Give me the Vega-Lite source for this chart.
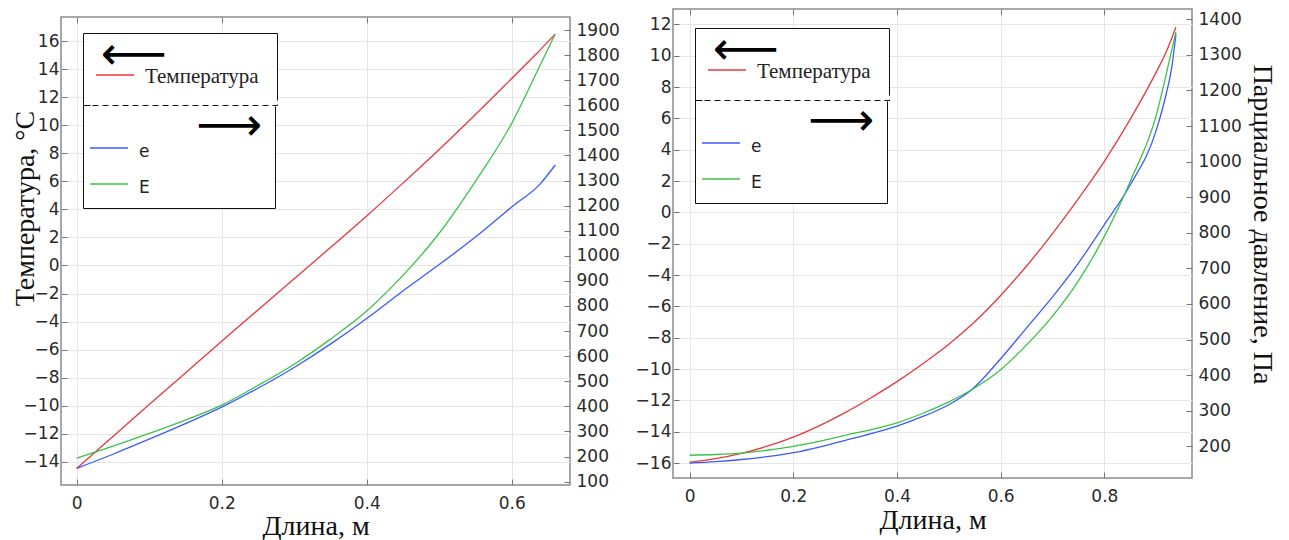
{
  "$schema": "https://vega.github.io/schema/vega-lite/v6.json",
  "background": "white",
  "padding": {"left": 10, "top": 7, "right": 4, "bottom": 0},
  "spacing": 13,
  "datasets": {
    "leftT": [
      {"x": 0, "v": -14.48, "s": "Температура"}, {"x": 0.05, "v": -12.2, "s": "Температура"},
      {"x": 0.1, "v": -9.93, "s": "Температура"}, {"x": 0.15, "v": -7.67, "s": "Температура"},
      {"x": 0.2, "v": -5.4, "s": "Температура"}, {"x": 0.25, "v": -3.17, "s": "Температура"},
      {"x": 0.3, "v": -0.95, "s": "Температура"}, {"x": 0.35, "v": 1.28, "s": "Температура"},
      {"x": 0.4, "v": 3.54, "s": "Температура"}, {"x": 0.45, "v": 5.88, "s": "Температура"},
      {"x": 0.5, "v": 8.28, "s": "Температура"}, {"x": 0.55, "v": 10.78, "s": "Температура"},
      {"x": 0.6, "v": 13.35, "s": "Температура"}, {"x": 0.63, "v": 14.9, "s": "Температура"},
      {"x": 0.66, "v": 16.52, "s": "Температура"}
    ],
    "leftP": [
      {"x": 0, "v": 153, "s": "e"}, {"x": 0.05, "v": 209, "s": "e"}, {"x": 0.1, "v": 269, "s": "e"},
      {"x": 0.15, "v": 331, "s": "e"}, {"x": 0.2, "v": 397, "s": "e"}, {"x": 0.25, "v": 472, "s": "e"},
      {"x": 0.3, "v": 555, "s": "e"}, {"x": 0.35, "v": 648, "s": "e"}, {"x": 0.4, "v": 750, "s": "e"},
      {"x": 0.45, "v": 860, "s": "e"}, {"x": 0.5, "v": 965, "s": "e"}, {"x": 0.55, "v": 1075, "s": "e"},
      {"x": 0.6, "v": 1195, "s": "e"}, {"x": 0.64, "v": 1289, "s": "e"}, {"x": 0.66, "v": 1362, "s": "e"},
      {"x": 0, "v": 193, "s": "E"}, {"x": 0.05, "v": 241, "s": "E"}, {"x": 0.1, "v": 292, "s": "E"},
      {"x": 0.15, "v": 345, "s": "E"}, {"x": 0.2, "v": 405, "s": "E"}, {"x": 0.25, "v": 483, "s": "E"},
      {"x": 0.3, "v": 568, "s": "E"}, {"x": 0.35, "v": 668, "s": "E"}, {"x": 0.4, "v": 780, "s": "E"},
      {"x": 0.45, "v": 922, "s": "E"}, {"x": 0.5, "v": 1090, "s": "E"}, {"x": 0.55, "v": 1297, "s": "E"},
      {"x": 0.6, "v": 1528, "s": "E"}, {"x": 0.64, "v": 1765, "s": "E"}, {"x": 0.66, "v": 1884, "s": "E"}
    ],
    "rightT": [
      {"x": 0, "v": -15.95, "s": "Температура"}, {"x": 0.05, "v": -15.72, "s": "Температура"},
      {"x": 0.1, "v": -15.38, "s": "Температура"}, {"x": 0.15, "v": -14.92, "s": "Температура"},
      {"x": 0.2, "v": -14.34, "s": "Температура"}, {"x": 0.25, "v": -13.62, "s": "Температура"},
      {"x": 0.3, "v": -12.78, "s": "Температура"}, {"x": 0.35, "v": -11.83, "s": "Температура"},
      {"x": 0.4, "v": -10.8, "s": "Температура"}, {"x": 0.45, "v": -9.66, "s": "Температура"},
      {"x": 0.5, "v": -8.42, "s": "Температура"}, {"x": 0.55, "v": -6.98, "s": "Температура"},
      {"x": 0.6, "v": -5.3, "s": "Температура"}, {"x": 0.65, "v": -3.42, "s": "Температура"},
      {"x": 0.7, "v": -1.35, "s": "Температура"}, {"x": 0.75, "v": 0.88, "s": "Температура"},
      {"x": 0.8, "v": 3.26, "s": "Температура"}, {"x": 0.85, "v": 5.95, "s": "Температура"},
      {"x": 0.9, "v": 8.95, "s": "Температура"}, {"x": 0.92, "v": 10.3, "s": "Температура"},
      {"x": 0.938, "v": 11.81, "s": "Температура"}
    ],
    "rightP": [
      {"x": 0, "v": 153, "s": "e"}, {"x": 0.05, "v": 157, "s": "e"}, {"x": 0.1, "v": 163, "s": "e"},
      {"x": 0.15, "v": 171, "s": "e"}, {"x": 0.2, "v": 182, "s": "e"}, {"x": 0.25, "v": 198, "s": "e"},
      {"x": 0.3, "v": 217, "s": "e"}, {"x": 0.35, "v": 236, "s": "e"}, {"x": 0.4, "v": 257, "s": "e"},
      {"x": 0.45, "v": 284, "s": "e"}, {"x": 0.5, "v": 317, "s": "e"}, {"x": 0.544, "v": 359, "s": "e"},
      {"x": 0.6, "v": 446, "s": "e"}, {"x": 0.65, "v": 533, "s": "e"}, {"x": 0.7, "v": 620, "s": "e"},
      {"x": 0.75, "v": 715, "s": "e"}, {"x": 0.8, "v": 823, "s": "e"}, {"x": 0.85, "v": 935, "s": "e"},
      {"x": 0.9, "v": 1088, "s": "e"}, {"x": 0.92, "v": 1195, "s": "e"}, {"x": 0.93, "v": 1265, "s": "e"},
      {"x": 0.938, "v": 1358, "s": "e"},
      {"x": 0, "v": 175, "s": "E"}, {"x": 0.05, "v": 177, "s": "E"}, {"x": 0.1, "v": 181, "s": "E"},
      {"x": 0.15, "v": 189, "s": "E"}, {"x": 0.2, "v": 200, "s": "E"}, {"x": 0.25, "v": 214, "s": "E"},
      {"x": 0.3, "v": 231, "s": "E"}, {"x": 0.35, "v": 247, "s": "E"}, {"x": 0.4, "v": 266, "s": "E"},
      {"x": 0.45, "v": 293, "s": "E"}, {"x": 0.5, "v": 325, "s": "E"}, {"x": 0.544, "v": 359, "s": "E"},
      {"x": 0.6, "v": 415, "s": "E"}, {"x": 0.65, "v": 485, "s": "E"}, {"x": 0.7, "v": 566, "s": "E"},
      {"x": 0.75, "v": 665, "s": "E"}, {"x": 0.8, "v": 790, "s": "E"}, {"x": 0.85, "v": 945, "s": "E"},
      {"x": 0.9, "v": 1130, "s": "E"}, {"x": 0.92, "v": 1250, "s": "E"}, {"x": 0.938, "v": 1365, "s": "E"}
    ]
  },
  "hconcat": [
    {
      "spacing": 5,
      "vconcat": [
        {
          "width": 509,
          "height": 1,
          "view": {"stroke": null},
          "data": {"values": []},
          "mark": "text"
        },
        {
          "width": 509,
          "height": 468,
          "layer": [
            {
              "data": {"name": "leftT"},
              "mark": {"type": "line", "strokeWidth": 1.3, "interpolate": "monotone"},
              "encoding": {
                "x": {"field": "x", "type": "quantitative",
                      "scale": {"domain": [-0.0216, 0.6804], "nice": false, "zero": false},
                      "axis": {"values": [0, 0.2, 0.4, 0.6], "title": "Длина, м", "format": "~g", "titlePadding": 1}},
                "y": {"field": "v", "type": "quantitative",
                      "scale": {"domain": [-15.67, 17.74], "nice": false, "zero": false},
                      "axis": {"orient": "left", "values": [-14, -12, -10, -8, -6, -4, -2, 0, 2, 4, 6, 8, 10, 12, 14, 16],
                               "title": "Температура, °C", "grid": true, "titleX": -22, "titleY": 191}},
                "color": {"field": "s", "type": "nominal",
                          "scale": {"domain": ["Температура"], "range": ["#e8383d"]},
                          "legend": {"orient": "none", "legendX": 22, "legendY": 16, "zindex": 3,
                                     "title": "⟵", "titleAnchor": "start",
                                     "padding": 18, "titlePadding": -42, "symbolOffset": -6,
                                     "labelFont": "Liberation Serif", "labelFontSize": 21,
                                     "encode": {
                                       "title": {"update": {"dy": {"value": -18}}},
                                       "labels": {"update": {"dy": {"value": 2}}},
                                       "legend": {"update": {"strokeDash": {"value": [261, 4, 6, 4, 6, 4, 6, 4, 6, 4, 6, 4, 6, 4, 6, 4, 6, 4, 6, 4, 6, 4, 6, 4, 6, 4, 6, 4, 6, 4, 6, 4, 6, 4, 6, 4, 6, 4, 6, 2, 100]}}}
                                     }}}
              }
            },
            {
              "data": {"name": "leftP"},
              "mark": {"type": "line", "strokeWidth": 1.3, "interpolate": "monotone"},
              "encoding": {
                "x": {"field": "x", "type": "quantitative",
                      "axis": {"orient": "top", "values": [0, 0.2, 0.4, 0.6], "labels": false, "title": null, "grid": false}},
                "y": {"field": "v", "type": "quantitative",
                      "scale": {"domain": [86.4, 1952], "nice": false, "zero": false},
                      "axis": {"orient": "right", "values": [100, 200, 300, 400, 500, 600, 700, 800, 900, 1000, 1100, 1200, 1300, 1400, 1500, 1600, 1700, 1800, 1900],
                               "title": null, "grid": false, "format": "d"}},
                "color": {"field": "s", "type": "nominal",
                          "scale": {"domain": ["e", "E"], "range": ["#3b5bff", "#3cc24a"]},
                          "legend": {"orient": "none", "legendX": 22, "legendY": 87, "zindex": 2,
                                     "title": "⠀⠀⠀⟶", "titleAnchor": "start", "titleLimit": 400,
                                     "padding": 12, "titlePadding": -34, "rowPadding": 4, "symbolOffset": -6,
                                     "labelFont": "DejaVu Sans", "labelFontSize": 17,
                                     "encode": {
                                       "title": {"update": {"dy": {"value": -12}}},
                                       "labels": {"update": {"dy": {"value": 4}}},
                                       "legend": {"update": {"strokeDash": {"value": [0, 194, 1000, 0]}}}
                                     }}}
              }
            }
          ],
          "resolve": {"scale": {"y": "independent", "color": "independent"}, "axis": {"x": "independent"}}
        }
      ]
    },
    {
      "width": 519,
      "height": 469,
      "layer": [
        {
          "data": {"name": "rightT"},
          "mark": {"type": "line", "strokeWidth": 1.3, "interpolate": "monotone"},
          "encoding": {
            "x": {"field": "x", "type": "quantitative",
                  "scale": {"domain": [-0.0319, 0.969], "nice": false, "zero": false},
                  "axis": {"values": [0, 0.2, 0.4, 0.6, 0.8], "title": "Длина, м", "format": "~g"}},
            "y": {"field": "v", "type": "quantitative",
                  "scale": {"domain": [-16.95, 12.98], "nice": false, "zero": false},
                  "axis": {"orient": "left", "values": [-16, -14, -12, -10, -8, -6, -4, -2, 0, 2, 4, 6, 8, 10, 12],
                           "title": null, "grid": true}},
            "color": {"field": "s", "type": "nominal",
                      "scale": {"domain": ["Температура"], "range": ["#e8383d"]},
                      "legend": {"orient": "none", "legendX": 22, "legendY": 19, "zindex": 3,
                                 "title": "⟵", "titleAnchor": "start",
                                 "padding": 18, "titlePadding": -42, "symbolOffset": -6,
                                 "labelFont": "Liberation Serif", "labelFontSize": 21,
                                 "encode": {
                                   "title": {"update": {"dy": {"value": -18}}},
                                   "labels": {"update": {"dy": {"value": 2}}},
                                   "legend": {"update": {"strokeDash": {"value": [261, 4, 6, 4, 6, 4, 6, 4, 6, 4, 6, 4, 6, 4, 6, 4, 6, 4, 6, 4, 6, 4, 6, 4, 6, 4, 6, 4, 6, 4, 6, 4, 6, 4, 6, 4, 6, 4, 6, 2, 100]}}}
                                 }}}
          }
        },
        {
          "data": {"name": "rightP"},
          "mark": {"type": "line", "strokeWidth": 1.3, "interpolate": "monotone"},
          "encoding": {
            "x": {"field": "x", "type": "quantitative",
                  "axis": {"orient": "top", "values": [0, 0.2, 0.4, 0.6, 0.8], "labels": false, "title": null, "grid": false}},
            "y": {"field": "v", "type": "quantitative",
                  "scale": {"domain": [111, 1429], "nice": false, "zero": false},
                  "axis": {"orient": "right", "values": [200, 300, 400, 500, 600, 700, 800, 900, 1000, 1100, 1200, 1300, 1400],
                           "title": "Парциальное давление, Па", "grid": false, "format": "d",
                           "titleX": 55, "titleY": 215}},
            "color": {"field": "s", "type": "nominal",
                      "scale": {"domain": ["e", "E"], "range": ["#3b5bff", "#3cc24a"]},
                      "legend": {"orient": "none", "legendX": 22, "legendY": 90, "zindex": 2,
                                 "title": "⠀⠀⠀⟶", "titleAnchor": "start", "titleLimit": 400,
                                 "padding": 12, "titlePadding": -34, "rowPadding": 4, "symbolOffset": -6,
                                 "labelFont": "DejaVu Sans", "labelFontSize": 17,
                                 "encode": {
                                   "title": {"update": {"dy": {"value": -12}}},
                                   "labels": {"update": {"dy": {"value": 4}}},
                                   "legend": {"update": {"strokeDash": {"value": [0, 194, 1000, 0]}}}
                                 }}}
          }
        }
      ],
      "resolve": {"scale": {"y": "independent", "color": "independent"}, "axis": {"x": "independent"}}
    }
  ],
  "config": {
    "view": {"stroke": "#8a8a8a", "strokeWidth": 1.5},
    "axis": {
      "domain": false,
      "labelFont": "DejaVu Sans", "labelFontSize": 17, "labelColor": "#2a2a2a",
      "titleFont": "Liberation Serif", "titleFontSize": 28, "titleFontWeight": "normal", "titleColor": "#111111",
      "gridColor": "#e6e6e6", "gridWidth": 1,
      "tickColor": "#777777", "tickSize": -6, "titlePadding": 2
    },
    "axisLeft": {"labelPadding": 8},
    "axisRight": {"labelPadding": 12},
    "axisBottom": {"labelPadding": 16},
    "legend": {
      "fillColor": "white", "strokeColor": "#111111", "strokeWidth": 1,
      "symbolType": "stroke", "symbolSize": 1444, "symbolStrokeWidth": 1.6,
      "titleFont": "DejaVu Sans", "titleFontSize": 46, "titleFontWeight": "normal", "titleColor": "black",
      "labelColor": "#222222", "rowPadding": 14, "labelOffset": 10
    }
  }
}
